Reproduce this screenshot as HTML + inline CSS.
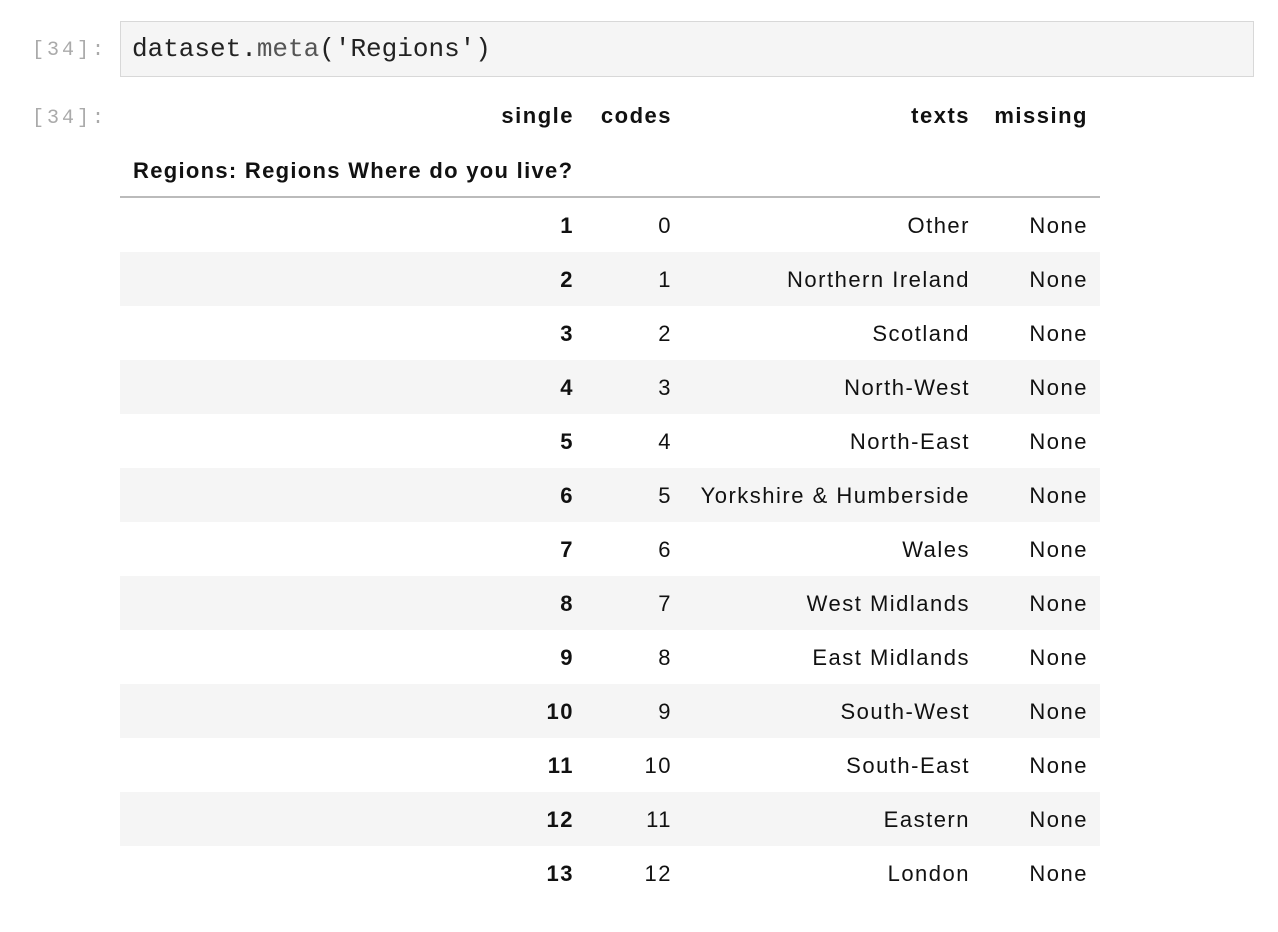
<!DOCTYPE html>
<html><head><meta charset="utf-8"><style>
body{margin:0;width:1278px;height:932px;background:#fff;position:relative;overflow:hidden;font-family:"Liberation Sans",Arial,sans-serif;color:#111}
.prompt{position:absolute;left:32px;font-family:"Liberation Mono",monospace;font-size:20px;letter-spacing:3px;color:#aaa}
.code{position:absolute;left:120px;top:21px;width:1134px;height:56px;background:#f5f5f5;border:1px solid #d8d8d8;box-sizing:border-box}
.code span.t{position:absolute;left:11px;top:12px;font-family:"Liberation Mono",monospace;font-size:26px;color:#222}
.c{position:absolute;font-size:22px;letter-spacing:1.5px;text-align:right;line-height:54px;height:54px}
.h{font-weight:bold}
.row{position:absolute;left:120px;width:980px;height:54px}
</style></head><body>
<div class="prompt" style="top:39px">[34]:</div>
<div class="code"><span class="t">dataset.<span style="color:#555">meta</span>('Regions')</span></div>
<div class="prompt" style="top:107px">[34]:</div>
<div id="tbl"></div>
<script>
const singles=[1,2,3,4,5,6,7,8,9,10,11,12,13];
const codes=[0,1,2,3,4,5,6,7,8,9,10,11,12];
const texts=["Other","Northern Ireland","Scotland","North-West","North-East","Yorkshire & Humberside","Wales","West Midlands","East Midlands","South-West","South-East","Eastern","London"];
const missing=["None","None","None","None","None","None","None","None","None","None","None","None","None"];
const tbl=document.getElementById('tbl');
const cols=[574,672,970,1088];
function cell(txt,right,top,bold,name){
  const d=document.createElement('div');
  d.className='c'+(bold?' h':'');
  d.style.right=(1278-right)+'px';d.style.top=(top+1)+'px';
  d.textContent=txt;
  
  
  tbl.appendChild(d);
}
['single','codes','texts','missing'].forEach((h,i)=>cell(h,cols[i],88,true,'column-header'));
const t=document.createElement('div');
t.className='c h';t.style.left='133px';t.style.top='144px';t.style.textAlign='left';t.style.letterSpacing='1.3px';
t.textContent='Regions: Regions Where do you live?';


tbl.appendChild(t);
const line=document.createElement('div');
line.style.cssText='position:absolute;left:120px;top:196px;width:980px;height:2px;background:#bbb';


tbl.appendChild(line);
singles.forEach((s,i)=>{
  const top=198+i*54;
  const r=document.createElement('div');
  r.className='row';r.style.top=top+'px';r.style.background=i%2?'#f5f5f5':'#fff';
  
  
  tbl.appendChild(r);
  cell(String(s),cols[0],top,true,'row-index');
  cell(String(codes[i]),cols[1],top,false,'code-cell-value');
  cell(texts[i],cols[2],top,false,'text-cell-value');
  cell(missing[i],cols[3],top,false,'missing-cell-value');
});
</script>
</body></html>
